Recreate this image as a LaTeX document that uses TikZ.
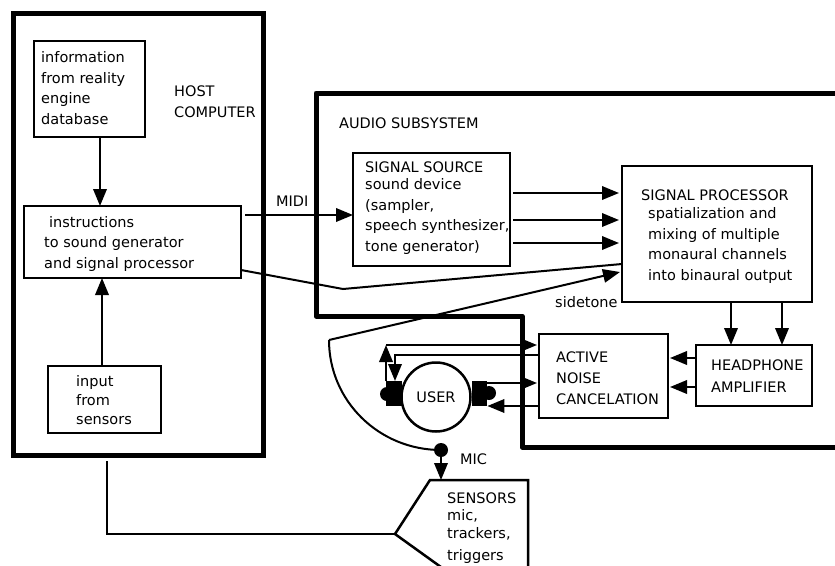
\documentclass[tikz,border=0pt]{standalone}
\usepackage{fontspec}
\setmainfont{DejaVu Sans}
\usetikzlibrary{arrows.meta}
\begin{document}
\begin{tikzpicture}[x=1pt,y=-1pt,
  bx/.style={draw, line width=2.5pt, rectangle, inner sep=0pt, outer sep=0pt, anchor=north west},
  txt/.style={anchor=base west, align=left, inner sep=0pt, font=\fontsize{14.5}{20.5}\selectfont},
  conn/.style={line width=2pt},
  arr/.style={line width=2pt, -{Triangle[length=17pt,width=13.5pt]}},
  dot/.style={circle, fill, inner sep=0pt, minimum size=14pt},
  ear/.style={rectangle, fill, inner sep=0pt, anchor=north west}]
\useasboundingbox (0,0) rectangle (835,565);
\fill[white] (0,0) rectangle (835,565);

% host computer
\node[bx, line width=5pt, minimum width=250pt, minimum height=442pt] (host) at (13,13) {};
\node[bx, minimum width=111pt, minimum height=96pt] (info) at (34,41) {};
\node[txt] (infot) at (41,124) {information\\from reality\\engine\\database};
\node[txt, font=\fontsize{14.5}{21}\selectfont] (hostt) at (174,117) {HOST\\COMPUTER};
\node[bx, line width=2pt, minimum width=217pt, minimum height=72pt] (instr) at (24,206) {};
\node[txt] (instrt) at (44,268) {\hspace*{5pt}instructions\\to sound generator\\and signal processor};
\node[bx, minimum width=113pt, minimum height=67pt] (inp) at (48,366) {};
\node[txt, font=\fontsize{14.5}{19}\selectfont] (inpt) at (76,424) {input\\from\\sensors};

% audio subsystem
\draw[line width=5pt, line join=round] (845,93) -- (316,93) -- (316,316) -- (522,316) -- (522,447) -- (845,447);
\node[txt] (audt) at (339,128) {AUDIO SUBSYSTEM};
\node[bx, minimum width=157pt, minimum height=113pt] (src) at (353,153) {};
\node[txt] (srct) at (365,251) {SIGNAL SOURCE\\[-3.5pt]sound device\\(sampler,\\speech synthesizer,\\tone generator)};
\node[bx, minimum width=190pt, minimum height=136pt] (sp) at (622,166) {};
\node[txt] (spt) at (641,280) {SIGNAL PROCESSOR\\[-2.5pt]\hspace*{7pt}spatialization and\\\hspace*{7pt}mixing of multiple\\\hspace*{7pt}monaural channels\\\hspace*{7pt}into binaural output};
\node[bx, minimum width=116pt, minimum height=61pt] (ha) at (696,345) {};
\node[txt, font=\fontsize{14.5}{22}\selectfont] (hat) at (711,392) {HEADPHONE\\AMPLIFIER};
\node[bx, minimum width=129pt, minimum height=84pt] (anc) at (539,334) {};
\node[txt, font=\fontsize{14.5}{21}\selectfont] (anct) at (556,404) {ACTIVE\\NOISE\\CANCELATION};

% user
\node[circle, draw, line width=2.5pt, minimum size=69pt, inner sep=0pt, font=\fontsize{14.5}{17}\selectfont] (user) at (436,397) {USER};
\node[ear, minimum width=16pt, minimum height=25pt] (earL) at (386,381) {};
\node[ear, minimum width=15pt, minimum height=25pt] (earR) at (472,381) {};
\node[dot] (dotL) at (387,394) {};
\node[dot] (dotR) at (489,393) {};

% sensors
\coordinate (sL) at (395,534);
\coordinate (sensTop) at (441,480);
\draw[line width=2.5pt, line join=miter] (528,575) -- (528,480) -- (430,480) -- (sL) -- (452,575);
\node[txt] (senst) at (447,560) {SENSORS\\[-3.5pt]mic,\\[-2.5pt]trackers,\\[1.5pt]triggers};

% connectors in host
\coordinate (cA) at (100,0);
\coordinate (cB) at (102,0);
\draw[arr] (info.south -| cA) -- (instr.north -| cA);
\draw[arr] (inp.north -| cB) -- (instr.south -| cB);

% MIDI
\coordinate (cM) at (0,215);
\draw[arr, shorten <=4pt] (instr.east |- cM) -- (src.west |- cM);
\node[txt] (midit) at (276,206) {MIDI};

% instructions to signal processor
\coordinate (cI) at (0,270);
\coordinate (cK) at (343,289);
\coordinate (cS) at (0,264);
\draw[conn] (instr.east |- cI) -- (cK) -- (sp.west |- cS);

% source to processor
\foreach \yy [count=\i] in {193,220,243} {
  \coordinate (c\i) at (0,\yy);
  \draw[arr, shorten <=3pt, shorten >=3pt] (src.east |- c\i) -- (sp.west |- c\i);
}

% sidetone and mic
\coordinate (arcTop) at (329,340);
\coordinate (stTip) at (620,272);
\draw[arr] (arcTop) -- (stTip);
\node[txt] (sidet) at (555,307) {sidetone};
\node[dot] (micdot) at (441,450) {};
\draw[conn] (arcTop) .. controls (329,401) and (379,450) .. (micdot.center);
\draw[arr] (micdot) -- (sensTop);
\node[txt] (mict) at (460,464) {MIC};

% host to sensors
\coordinate (cH) at (107,0);
\draw[conn, shorten <=6pt] (host.south -| cH) |- (sL);

% processor to amplifier
\coordinate (h1) at (731,0);
\coordinate (h2) at (782,0);
\draw[arr] (sp.south -| h1) -- (ha.north -| h1);
\draw[arr] (sp.south -| h2) -- (ha.north -| h2);

% amplifier to ANC
\coordinate (a1) at (0,358);
\coordinate (a2) at (0,387);
\draw[arr, shorten >=2pt] (ha.west |- a1) -- (anc.east |- a1);
\draw[arr, shorten >=2pt] (ha.west |- a2) -- (anc.east |- a2);

% ANC and user
\coordinate (uL1) at (386,345);
\coordinate (uL2) at (395,355);
\draw[arr] (earL.north west) -- (uL1);
\draw[arr, shorten >=2pt] (uL1) -- (anc.west |- uL1);
\draw[arr] (anc.west |- uL2) -- (uL2) -- (earL.north -| uL2);
\coordinate (uR1) at (0,383);
\coordinate (uR2) at (0,406);
\draw[arr, shorten >=2pt] (earR.east |- uR1) -- (anc.west |- uR1);
\draw[arr] (anc.west |- uR2) -- (earR.east |- uR2);
\end{tikzpicture}
\end{document}
